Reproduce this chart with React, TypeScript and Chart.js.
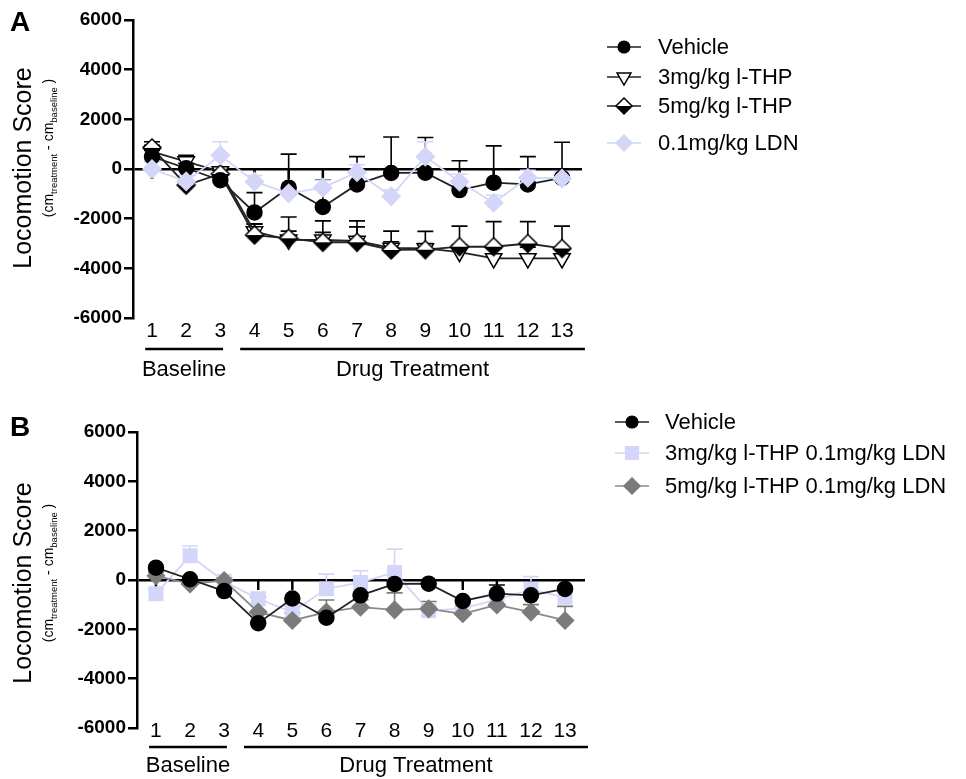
import React, { useEffect, useRef } from 'react';
import { Chart, registerables } from 'chart.js';
Chart.register(...registerables);

// ---------------- data ----------------
const sessions = [1, 2, 3, 4, 5, 6, 7, 8, 9, 10, 11, 12, 13];
const yTickValues = [-6000, -4000, -2000, 0, 2000, 4000, 6000];
const groupLabels = ['Baseline', 'Drug Treatment'];
const groupStart = [0.8, 3.58];
const groupEnd = [3.08, 13.67];

const vehicle = [500, 30, -450, -1750, -750, -1530, -620, -160, -150, -850, -550, -620, -360];
const vehicleErrA = [250, 200, 200, 800, 1350, 1090, 1120, 1450, 1420, 1180, 1480, 1120, 1440];
const vehicleErrB = [0, 0, 0, 0, 0, 0, 0, 0, 0, 0, 350, 0, 0];

const thp3 = [700, 300, -100, -2520, -2850, -2850, -2900, -3180, -3200, -3350, -3600, -3600, -3600];
const thp3Err = [250, 250, 150, 300, 350, 300, 570, 250, 200, 300, 400, 450, 400];
const thp5 = [850, -650, -200, -2660, -2790, -2950, -2950, -3260, -3250, -3130, -3130, -3000, -3200];
const thp5Err = [250, 150, 150, 450, 860, 860, 860, 760, 740, 830, 1010, 880, 900];
const ldn = [0, -500, 550, -510, -980, -750, -130, -1100, 500, -510, -1360, -350, -380];
const ldnErr = [300, 250, 550, 250, 250, 300, 300, 250, 600, 300, 300, 300, 250];

const thp3Ldn = [-560, 980, -50, -765, -1300, -360, -95, 310, -1250, -1150, -800, -390, -700];
const thp3LdnErr = [200, 400, 150, 270, 250, 600, 470, 940, 200, 200, 300, 525, 250];
const thp5Ldn = [170, -160, -20, -1300, -1640, -1300, -1100, -1210, -1170, -1370, -1010, -1300, -1640];
const thp5LdnErr = [150, 150, 100, 600, 300, 490, 300, 690, 300, 300, 300, 300, 570];

const seriesLabelsA = ['Vehicle', '3mg/kg l-THP', '5mg/kg l-THP', '0.1mg/kg LDN'];
const seriesLabelsB = ['Vehicle', '3mg/kg l-THP 0.1mg/kg LDN', '5mg/kg l-THP 0.1mg/kg LDN'];

// ---------------- styles ----------------
const FONT = "'Liberation Sans', Arial, sans-serif";
const LAV = '#d3d6f8';
const GREY = '#7b7b7b';
const DARK = '#222';

function drawMarker(ctx: CanvasRenderingContext2D, m: string, x: number, y: number, r: number, fill: string, stroke: string) {
  ctx.save();
  ctx.lineWidth = 1.5;
  ctx.fillStyle = fill;
  ctx.strokeStyle = stroke;
  if (m === 'halfDiamond') {
    ctx.beginPath();
    ctx.moveTo(x, y - r); ctx.lineTo(x + r, y); ctx.lineTo(x, y + r); ctx.lineTo(x - r, y); ctx.closePath();
    ctx.fillStyle = '#fff'; ctx.fill();
    ctx.beginPath();
    ctx.moveTo(x - r, y); ctx.lineTo(x + r, y); ctx.lineTo(x, y + r); ctx.closePath();
    ctx.fillStyle = '#000'; ctx.fill();
    ctx.beginPath();
    ctx.moveTo(x, y - r); ctx.lineTo(x + r, y); ctx.lineTo(x, y + r); ctx.lineTo(x - r, y); ctx.closePath();
    ctx.strokeStyle = '#000'; ctx.stroke();
    ctx.restore();
    return;
  }
  ctx.beginPath();
  if (m === 'circle') ctx.arc(x, y, r, 0, Math.PI * 2);
  else if (m === 'triDown') {
    ctx.moveTo(x - r * 0.866, y - r * 0.5); ctx.lineTo(x + r * 0.866, y - r * 0.5); ctx.lineTo(x, y + r); ctx.closePath();
  } else if (m === 'diamond') {
    ctx.moveTo(x, y - r); ctx.lineTo(x + r, y); ctx.lineTo(x, y + r); ctx.lineTo(x - r, y); ctx.closePath();
  } else if (m === 'square') {
    const s = r * Math.SQRT1_2;
    ctx.rect(x - s, y - s, 2 * s, 2 * s);
  }
  ctx.fill();
  ctx.stroke();
  ctx.restore();
}

function makeHalfDiamondImage(r: number) {
  const c = document.createElement('canvas');
  const s = Math.ceil(2 * r + 4);
  c.width = s; c.height = s;
  const g = c.getContext('2d') as CanvasRenderingContext2D;
  drawMarker(g, 'halfDiamond', s / 2, s / 2, r, '#fff', '#000');
  return c;
}

const toPts = (vals: number[]) => sessions.map((s, i) => ({ x: s, y: vals[i] }));

function makeDataset(label: string, vals: number[], errs: number[], marker: string, opts: any) {
  const base: any = {
    label,
    data: toPts(vals),
    errors: errs,
    marker,
    errColor: opts.errColor,
    legendR: opts.legendR,
    borderColor: opts.lineColor,
    borderWidth: opts.lineWidth ?? 1.8,
    tension: 0,
    fill: false,
    pointRadius: opts.radius,
    pointBorderWidth: 1.5,
    pointBackgroundColor: opts.fill,
    pointBorderColor: opts.stroke,
    pointFillColor: opts.fill,
    pointStrokeColor: opts.stroke,
    order: opts.order,
  };
  if (marker === 'circle') base.pointStyle = 'circle';
  else if (marker === 'triDown') { base.pointStyle = 'triangle'; base.pointRotation = 180; }
  else if (marker === 'diamond') base.pointStyle = 'rectRot';
  else if (marker === 'square') base.pointStyle = 'rect';
  else if (marker === 'halfDiamond') base.pointStyle = opts.image;
  return base;
}

function drawVerticalTitle(ctx: CanvasRenderingContext2D, cx: number, cy: number, subCx: number, subCy: number) {
  ctx.save();
  ctx.translate(cx, cy);
  ctx.rotate(-Math.PI / 2);
  ctx.fillStyle = '#000';
  ctx.font = `25px ${FONT}`;
  ctx.textAlign = 'center';
  ctx.textBaseline = 'middle';
  ctx.fillText('Locomotion Score', 0, 0);
  ctx.restore();

  const segs: [string, number, number][] = [
    ['(cm', 14, 0], ['treatment', 9.5, 3.5], [' - cm', 14, 0], ['baseline', 9.5, 3.5], [' )', 14, 0],
  ];
  ctx.save();
  ctx.translate(subCx, subCy);
  ctx.rotate(-Math.PI / 2);
  ctx.fillStyle = '#000';
  ctx.textBaseline = 'alphabetic';
  ctx.textAlign = 'left';
  let total = 0;
  segs.forEach(([t, sz]) => { ctx.font = `${sz}px ${FONT}`; total += ctx.measureText(t).width; });
  let x = -total / 2;
  segs.forEach(([t, sz, dy]) => {
    ctx.font = `${sz}px ${FONT}`;
    ctx.fillText(t, x, 5 + dy);
    x += ctx.measureText(t).width;
  });
  ctx.restore();
}

const decorPlugin = {
  id: 'decor',
  afterLayout(chart: any, _a: any, o: any) {
    if (o.xShift) chart.scales.x.top -= o.xShift;
  },
  beforeDatasetsDraw(chart: any, _a: any, o: any) {
    const ctx: CanvasRenderingContext2D = chart.ctx;
    const xs = chart.scales.x;
    const ys = chart.scales.y;
    const y0 = ys.getPixelForValue(0);
    ctx.save();
    ctx.strokeStyle = '#000';
    ctx.lineWidth = 2.5;
    sessions.forEach((s) => {
      const px = xs.getPixelForValue(s);
      ctx.beginPath(); ctx.moveTo(px, y0); ctx.lineTo(px, y0 + 10); ctx.stroke();
    });
    chart.data.datasets.forEach((ds: any, i: number) => {
      const meta = chart.getDatasetMeta(i);
      ctx.strokeStyle = ds.errColor;
      ctx.lineWidth = 1.6;
      meta.data.forEach((pt: any, j: number) => {
        const e = ds.errors[j];
        if (!e) return;
        const yTop = ys.getPixelForValue(ds.data[j].y + e);
        ctx.beginPath();
        ctx.moveTo(pt.x, pt.y); ctx.lineTo(pt.x, yTop);
        ctx.moveTo(pt.x - 8, yTop); ctx.lineTo(pt.x + 8, yTop);
        ctx.stroke();
      });
    });
    ctx.restore();
  },
  afterDraw(chart: any, _a: any, o: any) {
    const ctx: CanvasRenderingContext2D = chart.ctx;
    const xs = chart.scales.x;
    const area = chart.chartArea;
    ctx.save();
    // panel letter
    ctx.fillStyle = '#000';
    ctx.font = `bold 28px ${FONT}`;
    ctx.textAlign = 'left';
    ctx.textBaseline = 'middle';
    ctx.fillText(o.letter, 10, o.letterY);
    // y titles
    const mid = (area.top + area.bottom) / 2;
    drawVerticalTitle(ctx, 24, mid + o.titleDy, 48, mid + o.subDy);
    // group labels
    ctx.strokeStyle = '#000';
    ctx.lineWidth = 2.5;
    ctx.font = `22px ${FONT}`;
    ctx.textAlign = 'center';
    ctx.textBaseline = 'middle';
    groupLabels.forEach((g, i) => {
      const a = xs.getPixelForValue(groupStart[i]);
      const b = xs.getPixelForValue(groupEnd[i]);
      ctx.beginPath(); ctx.moveTo(a, o.underlineY); ctx.lineTo(b, o.underlineY); ctx.stroke();
      ctx.fillText(g, (a + b) / 2, o.groupTextY);
    });
    // legend
    const [l1, l2] = o.legendLine;
    chart.data.datasets.forEach((ds: any, i: number) => {
      const y = o.legendY[i];
      ctx.strokeStyle = ds.borderColor;
      ctx.lineWidth = 1.6;
      ctx.beginPath(); ctx.moveTo(l1, y); ctx.lineTo(l2, y); ctx.stroke();
      drawMarker(ctx, ds.marker, (l1 + l2) / 2, y, ds.legendR, ds.pointFillColor, ds.pointStrokeColor);
      ctx.fillStyle = '#000';
      ctx.font = `22px ${FONT}`;
      ctx.textAlign = 'left';
      ctx.textBaseline = 'middle';
      ctx.fillText(ds.label, o.legendTextX, y + 1);
    });
    ctx.restore();
  },
};

function buildChart(canvas: HTMLCanvasElement, cfg: any, datasets: any[]) {
  const xAxisH = 40;
  return new Chart(canvas, {
    type: 'line',
    data: { datasets },
    options: {
      responsive: false,
      animation: false,
      devicePixelRatio: 1,
      layout: {
        padding: {
          left: 0,
          top: cfg.area.top,
          right: cfg.width - cfg.area.right,
          bottom: cfg.height - cfg.area.bottom - xAxisH,
        },
      },
      plugins: {
        legend: { display: false },
        tooltip: { enabled: false },
        decor: cfg.decor,
      } as any,
      scales: {
        x: {
          type: 'linear',
          min: 0.444,
          max: 13.585,
          afterFit: (s: any) => { s.height = xAxisH; },
          afterBuildTicks: (s: any) => { s.ticks = sessions.map((v) => ({ value: v })); },
          grid: { display: false, drawTicks: false },
          border: { display: false },
          ticks: {
            autoSkip: false,
            maxRotation: 0,
            padding: cfg.xPad,
            color: '#000',
            font: { size: 21, family: FONT, lineHeight: 1.2 },
            callback: (v: any) => String(v),
          },
        },
        y: {
          type: 'linear',
          min: -6000,
          max: 6000,
          afterFit: (s: any) => { s.width = cfg.area.left; },
          afterBuildTicks: (s: any) => { s.ticks = yTickValues.map((v) => ({ value: v })); },
          grid: {
            drawOnChartArea: true,
            drawTicks: true,
            color: (c: any) => (c.tick && c.tick.value === 0 ? '#000' : 'rgba(0,0,0,0)'),
            lineWidth: 2.5,
            tickColor: '#000',
            tickWidth: 2.5,
            tickLength: 9,
          },
          border: { display: true, color: '#000', width: 2.5 },
          ticks: {
            padding: 2,
            color: '#000',
            font: { size: 19, weight: 'bold', family: FONT },
            callback: (v: any) => String(v),
          },
        },
      },
    } as any,
    plugins: [decorPlugin as any],
  });
}

const cfgA = {
  width: 966, height: 390, top: 0,
  area: { left: 133, top: 20, right: 582, bottom: 318 },
  xPad: 1,
  decor: {
    letter: 'A', letterY: 23, titleDy: -1, subDy: -21, xShift: 0,
    underlineY: 349, groupTextY: 370,
    legendY: [47, 77, 106, 143], legendLine: [607, 641], legendTextX: 658,
  },
};
const cfgB = {
  width: 966, height: 389, top: 390,
  area: { left: 137, top: 42, right: 585, bottom: 338 },
  xPad: 3,
  decor: {
    letter: 'B', letterY: 38, titleDy: 3, subDy: -7, xShift: 12,
    underlineY: 357, groupTextY: 376,
    legendY: [32, 63, 96], legendLine: [615, 649], legendTextX: 665,
  },
};

export default function App() {
  const refA = useRef<HTMLCanvasElement>(null);
  const refB = useRef<HTMLCanvasElement>(null);

  useEffect(() => {
    const half = makeHalfDiamondImage(9);
    const dsA = [
      makeDataset(seriesLabelsA[0], vehicle, vehicleErrA, 'circle', { fill: '#000', stroke: '#000', lineColor: DARK, errColor: '#000', radius: 7.5, legendR: 5.8, order: 1 }),
      makeDataset(seriesLabelsA[1], thp3, thp3Err, 'triDown', { fill: '#fff', stroke: '#000', lineColor: DARK, errColor: '#000', radius: 9.5, legendR: 8, order: 3 }),
      makeDataset(seriesLabelsA[2], thp5, thp5Err, 'halfDiamond', { fill: '#fff', stroke: '#000', lineColor: DARK, errColor: '#000', radius: 9, legendR: 8, order: 2, image: half }),
      makeDataset(seriesLabelsA[3], ldn, ldnErr, 'diamond', { fill: LAV, stroke: LAV, lineColor: LAV, errColor: LAV, radius: 9, legendR: 8, order: 0 }),
    ];
    const dsB = [
      makeDataset(seriesLabelsB[0], vehicle, vehicleErrB, 'circle', { fill: '#000', stroke: '#000', lineColor: DARK, errColor: '#000', radius: 7.5, legendR: 5.8, order: 0 }),
      makeDataset(seriesLabelsB[1], thp3Ldn, thp3LdnErr, 'square', { fill: LAV, stroke: LAV, lineColor: LAV, errColor: LAV, radius: 9.5, legendR: 9, order: 2 }),
      makeDataset(seriesLabelsB[2], thp5Ldn, thp5LdnErr, 'diamond', { fill: GREY, stroke: GREY, lineColor: '#8a8a8a', errColor: GREY, radius: 8.5, legendR: 8, order: 1 }),
    ];
    const a = buildChart(refA.current as HTMLCanvasElement, cfgA, dsA);
    const b = buildChart(refB.current as HTMLCanvasElement, cfgB, dsB);
    return () => { a.destroy(); b.destroy(); };
  }, []);

  return (
    <div style={{ position: 'absolute', left: 0, top: 0, width: 966, height: 779, background: '#fff' }}>
      <canvas ref={refA} width={cfgA.width} height={cfgA.height}
        style={{ position: 'absolute', left: 0, top: cfgA.top, width: cfgA.width, height: cfgA.height }} />
      <canvas ref={refB} width={cfgB.width} height={cfgB.height}
        style={{ position: 'absolute', left: 0, top: cfgB.top, width: cfgB.width, height: cfgB.height }} />
    </div>
  );
}
